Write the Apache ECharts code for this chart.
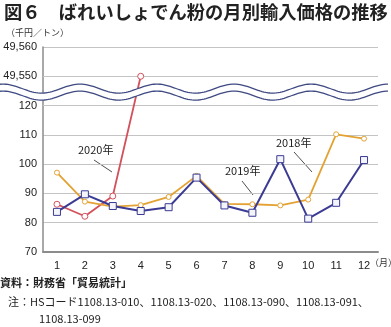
<!DOCTYPE html>
<html><head><meta charset="utf-8">
<script src="https://cdn.jsdelivr.net/npm/echarts@6/dist/echarts.min.js"></script>
<style>html,body{margin:0;padding:0;background:#fff}#c{width:391px;height:327px}</style>
</head><body><div id="c"></div>
<script>
const months = ['1','2','3','4','5','6','7','8','9','10','11','12'];
const y2018 = [97.1, 87.2, 85.5, 86.0, 88.8, 96.0, 86.4, 86.3, 85.9, 87.9, 110.2, 108.7];
const y2019 = [83.7, 89.7, 85.7, 84.0, 85.3, 95.4, 85.9, 83.4, 101.7, 81.4, 86.8, 101.4];
const y2020 = [86.3, 82.2, 89.1, 49550, null, null, null, null, null, null, null, null];
const yTicks = [70, 80, 90, 100, 110, 120, 49550, 49560];
const breakTicks = [120, 49550];

const chart = echarts.init(document.getElementById('c'));
const jp = '"Noto Sans CJK JP", sans-serif';
const lat = '"Liberation Sans", Arial, sans-serif';
const fmt = v => Number(v).toLocaleString('en-US');

function wave(offset) {
  const pts = [];
  for (let x = 0; x <= 388; x += 2) {
    pts.push([x, 88.6 + offset - 4.5 * Math.sin(2 * Math.PI * (x - 60.75) / 77)]);
  }
  return pts;
}
const up = wave(0), lo = wave(7);
const band = up.concat(lo.slice().reverse());

chart.setOption({
  animation: false,
  grid: { left: 43, right: 13, top: 47, bottom: 75, containLabel: false, outerBoundsMode: 'none' },
  xAxis: {
    type: 'category', data: months, boundaryGap: true,
    axisLine: { lineStyle: { color: '#8c8c8c', width: 2 } },
    axisTick: { show: false },
    axisLabel: { color: '#222', fontFamily: lat, fontSize: 11, margin: 8 }
  },
  yAxis: {
    type: 'value', min: 70, max: 49560, interval: 10,
    breaks: [{ start: 125, end: 49545, gap: 0 }],
    breakArea: { show: false },
    axisLine: { show: true, lineStyle: { color: '#8c8c8c', width: 1.5 } },
    axisTick: { show: false },
    splitLine: { lineStyle: { color: '#c4c4c4', width: 1 } },
    axisLabel: {
      color: '#222', fontFamily: lat, fontSize: 11, margin: 6, hideOverlap: false,
      formatter: v => (yTicks.indexOf(v) >= 0 && breakTicks.indexOf(v) < 0) ? fmt(v) : ''
    }
  },
  series: [
    { name: '2020', type: 'line', data: y2020, connectNulls: false,
      symbol: 'circle', symbolSize: 6, showAllSymbol: true,
      lineStyle: { color: '#d2515c', width: 1.8 },
      itemStyle: { color: '#fff', borderColor: '#d2515c', borderWidth: 1 }, z: 3 },
    { name: '2018', type: 'line', data: y2018,
      symbol: 'circle', symbolSize: 5,
      lineStyle: { color: '#e3a233', width: 1.8 },
      itemStyle: { color: '#fff', borderColor: '#e3a233', borderWidth: 1 }, z: 4 },
    { name: '2019', type: 'line', data: y2019,
      symbol: 'rect', symbolSize: 7,
      lineStyle: { color: '#3b3b94', width: 2 },
      itemStyle: { color: '#f4f4fb', borderColor: '#3b3b94', borderWidth: 1 }, z: 5,
      markLine: {
        silent: true, symbol: 'none', z: 1,
        lineStyle: { color: '#c4c4c4', width: 1, type: 'solid' },
        label: { position: 'start', distance: 6, color: '#222', fontFamily: lat, fontSize: 11,
                 formatter: p => fmt(p.value) },
        emphasis: { disabled: true },
        data: breakTicks.map(v => ({ yAxis: v }))
      } }
  ],
  graphic: [
    { type: 'polygon', shape: { points: band }, style: { fill: '#fff' }, z: 100 },
    { type: 'polyline', shape: { points: up }, style: { stroke: '#3f4a82', lineWidth: 1.3, fill: null }, z: 101 },
    { type: 'polyline', shape: { points: lo }, style: { stroke: '#3f4a82', lineWidth: 1.3, fill: null }, z: 101 },
    { type: 'text', left: 4, top: 3, style: { text: '図６　ばれいしょでん粉の月別輸入価格の推移', font: 'bold 18.3px ' + jp, fill: '#222' } },
    { type: 'text', left: 6, top: 28, style: { text: '（千円／トン）', font: '9px ' + jp, fill: '#333' } },
    { type: 'text', left: 370, top: 258, style: { text: '（月）', font: '9px ' + jp, fill: '#333' } },
    { type: 'text', left: 78, top: 144, style: { text: '2020年', font: '11px ' + jp, fill: '#222' } },
    { type: 'line', shape: { x1: 94, y1: 160, x2: 112, y2: 172 }, style: { stroke: '#222', lineWidth: 0.8 } },
    { type: 'text', left: 225, top: 165, style: { text: '2019年', font: '11px ' + jp, fill: '#222' } },
    { type: 'line', shape: { x1: 242, y1: 181, x2: 253, y2: 195 }, style: { stroke: '#222', lineWidth: 0.8 } },
    { type: 'text', left: 276, top: 137, style: { text: '2018年', font: '11px ' + jp, fill: '#222' } },
    { type: 'line', shape: { x1: 294, y1: 152, x2: 312, y2: 172 }, style: { stroke: '#222', lineWidth: 0.8 } },
    { type: 'text', left: 0, top: 277, style: { text: '資料：財務省「貿易統計」', font: 'bold 11px ' + jp, fill: '#222' } },
    { type: 'text', left: 8, top: 296, style: { text: '注：HSコード1108.13-010、1108.13-020、1108.13-090、1108.13-091、', font: '11px ' + jp, fill: '#222' } },
    { type: 'text', left: 39, top: 313, style: { text: '1108.13-099', font: '11px ' + jp, fill: '#222' } }
  ]
});
</script></body></html>
